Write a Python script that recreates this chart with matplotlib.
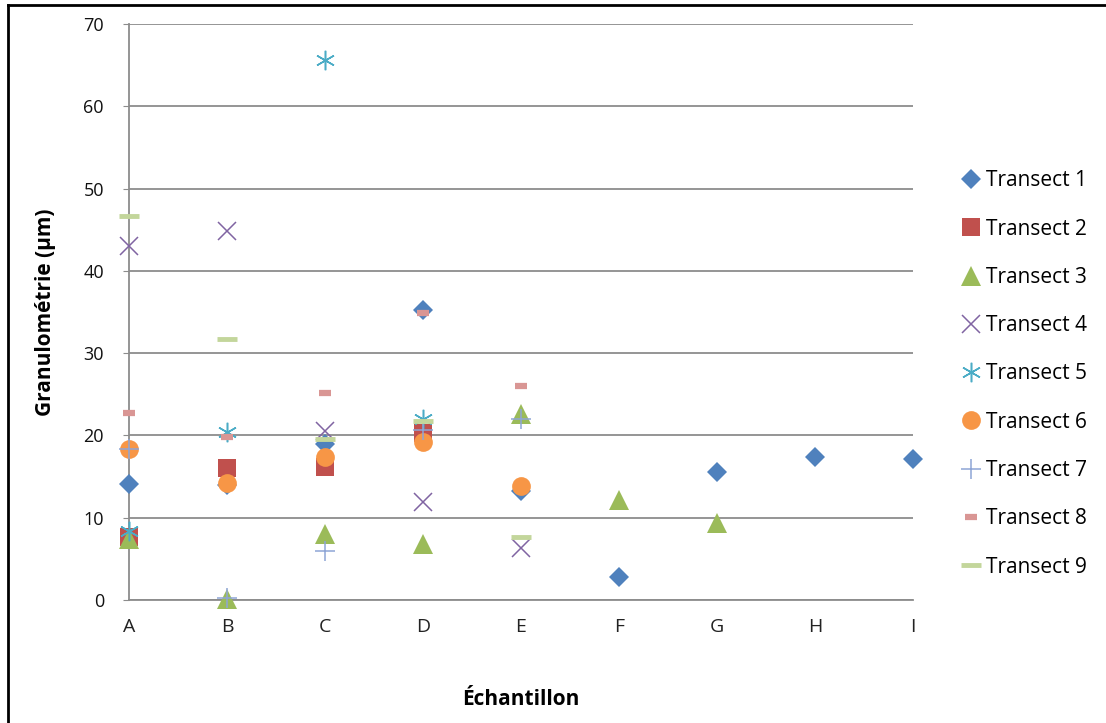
import numpy as np
import matplotlib
matplotlib.use("Agg")
import matplotlib.pyplot as plt
from matplotlib.lines import Line2D

# Sample positions along the transects
categories = ["A", "B", "C", "D", "E", "F", "G", "H", "I"]

# Grain size (µm) per transect; None where no sample was taken
transect_1 = [14.1, 14.0, 18.9, 35.2, 13.2, 2.8, 15.6, 17.4, 17.1]
transect_2 = [7.6, 16.1, 16.2, 20.3, None, None, None, None, None]
transect_3 = [7.4, 0.1, 8.0, 6.8, 22.6, 12.1, 9.4, None, None]
transect_4 = [43.0, 44.8, 20.5, 11.9, 6.3, None, None, None, None]
transect_5 = [8.4, 20.4, 65.6, 22.0, None, None, None, None, None]
transect_6 = [18.4, 14.2, 17.4, 19.2, 13.9, None, None, None, None]
transect_7 = [18.3, 0.2, 5.9, 20.6, 22.0, None, None, None, None]
transect_8 = [22.7, 19.8, 25.2, 34.9, 26.0, None, None, None, None]
transect_9 = [46.7, 31.7, 19.6, 21.8, 7.6, None, None, None, None]

series_names = [f"Transect {i}" for i in range(1, 10)]
series_values = [transect_1, transect_2, transect_3, transect_4, transect_5,
                 transect_6, transect_7, transect_8, transect_9]

y_ticks = [0, 10, 20, 30, 40, 50, 60, 70]

# Marker styling per series (Office-like palette)
styles = [
    dict(marker="D", color="#4F81BD", ms=10.5, mew=0),
    dict(marker="s", color="#C0504D", ms=12.5, mew=0),
    dict(marker="^", color="#9BBB59", ms=14, mew=0),
    dict(marker="x", color="#8064A2", ms=13, mew=1.1),
    dict(marker=(6, 2, 0), color="#4BACC6", ms=14, mew=1.1),
    dict(marker="o", color="#F79646", ms=13.5, mew=0),
    dict(marker="+", color="#8EA5D6", ms=14, mew=1.1),
    dict(marker="_", color="#D99694", ms=9, mew=4.5),
    dict(marker="_", color="#C3D69B", ms=15, mew=3.5),
]

plt.rcParams['font.family'] = ['Open Sans', 'DejaVu Sans']

fig = plt.figure(figsize=(11.06, 7.23), dpi=100)
ax = fig.add_axes([129 / 1106, 1 - 600 / 723, (913 - 129) / 1106, (600 - 24) / 723])

x = np.arange(len(categories))
handles = []
for name, vals, st in zip(series_names, series_values, styles):
    xs = [xi for xi, v in zip(x, vals) if v is not None]
    ys = [v for v in vals if v is not None]
    marker = st["marker"]
    kw = dict(linestyle="none", marker=marker, markersize=st["ms"],
              markeredgewidth=st["mew"], clip_on=False, zorder=3)
    if st["mew"] == 0 or marker in ("D", "s", "^", "o"):
        kw.update(markerfacecolor=st["color"], markeredgecolor=st["color"])
    else:
        kw.update(color=st["color"])
    ax.plot(xs, ys, **kw)
    handles.append(Line2D([], [], **{k: v for k, v in kw.items()
                                      if k not in ("clip_on", "zorder")}))

ax.set_xlim(0, len(categories) - 1)
ax.set_ylim(0, 70)
ax.set_xticks(x)
ax.set_xticklabels(categories, fontsize=14, color="#222222")
ax.set_yticks(y_ticks)
ax.set_yticklabels([str(t) for t in y_ticks], fontsize=13, color="#111111")
ax.tick_params(axis="x", length=0, pad=13)
ax.tick_params(axis="y", length=4, color="#8C8C8C", pad=14)

ax.grid(axis="y", color="#8C8C8C", linewidth=1.3, zorder=0)
ax.set_axisbelow(True)
for side in ("top", "right"):
    ax.spines[side].set_visible(False)
for side in ("left", "bottom"):
    ax.spines[side].set_color("#8C8C8C")
    ax.spines[side].set_linewidth(1.3)

ax.set_xlabel("Échantillon", fontsize=15, fontweight="bold", labelpad=38)
ax.set_ylabel("Granulométrie (µm)", fontsize=15, fontweight="bold", labelpad=20)

leg = fig.legend(handles, series_names, loc="upper left",
                 bbox_to_anchor=(952 / 1106, 1 - 162 / 723),
                 frameon=False, fontsize=15, handlelength=1.0,
                 handletextpad=0.25, labelspacing=1.31, borderaxespad=0)

# Chart area frame (top and left edges)
fig.add_artist(Line2D([8 / 1106, 8 / 1106], [0, 1 - 5 / 723],
                      transform=fig.transFigure, color="black", linewidth=2))
fig.add_artist(Line2D([8 / 1106, 1], [1 - 5 / 723, 1 - 5 / 723],
                      transform=fig.transFigure, color="black", linewidth=2))

fig.savefig("out.png", dpi=100)
